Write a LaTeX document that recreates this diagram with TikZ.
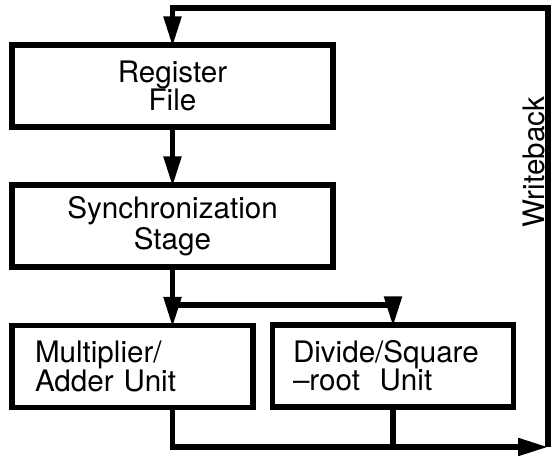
\documentclass[tikz,border=0pt]{standalone}
\usepackage{fontspec}
\setmainfont{TeX Gyre Heros}
\usetikzlibrary{positioning,arrows.meta,calc}

\begin{document}
\begin{tikzpicture}[
  x=0.5pt,y=-0.5pt,
  font=\fontsize{14.8}{14.2}\selectfont,
  blk/.style={draw,line width=2.6pt,inner sep=0pt,minimum height=41pt,align=center},
  wide/.style={blk,minimum width=160.5pt},
  unit/.style={blk,minimum width=120.5pt,align=left},
  ar/.style={-{Triangle[length=15pt,width=8.5pt]},line width=2.6pt,shorten >=-2pt},
  ln/.style={line width=2.6pt},
]
\useasboundingbox (0,0) rectangle (551,455);
\node[wide] (rf) at (172.5,86) {Register\\File};
\node[wide] (sync) at (172.5,226) {Synchronization\\Stage};
\node[unit,text width=97.5pt] (ma) at (132.5,366.5) {Multiplier/\\Adder Unit};
\node[unit,text width=100pt] (ds) at (393,366) {Divide/Square\\--root~~Unit};
\coordinate (wb) at (548,447);
\coordinate (top) at (548,8);
\coordinate (fork) at (172.5,305);
\node[rotate=90,anchor=south,inner sep=1.5pt] (wbl) at (548,162) {Writeback};
% pipeline down the left
\draw[ar] (rf) -- (sync);
\draw[ar] (sync) -- (sync |- ma.north);
\draw[ar] (fork) -| (ds.north);
% results back to the register file
\draw[ar,shorten >=0pt] (sync |- ma.south) |- (wb);
\draw[ln] (ds.south) -- (ds.south |- wb);
\draw[ar] (wb) -- (top) -| (rf.north);
\end{tikzpicture}
\end{document}
